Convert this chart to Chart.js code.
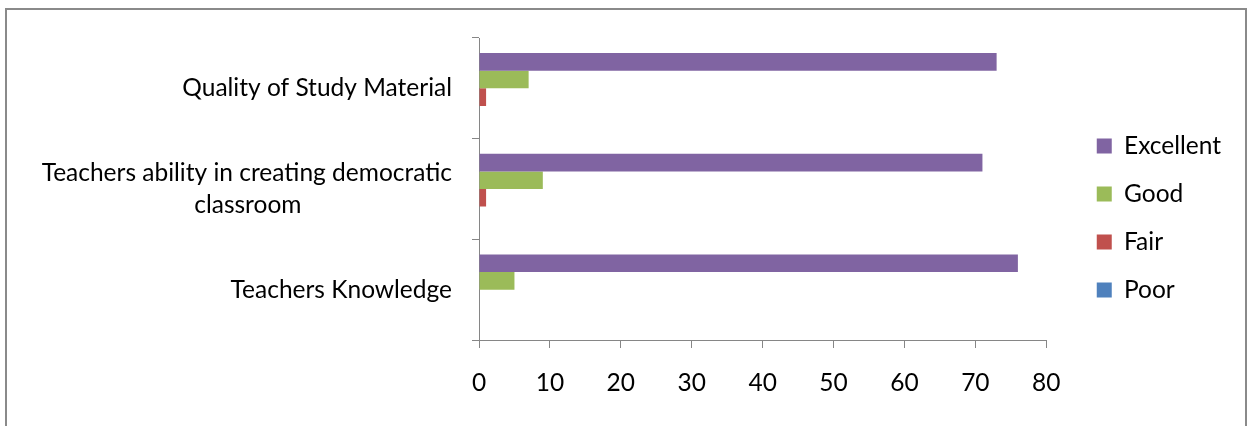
<!DOCTYPE html>
<html><head><meta charset="utf-8">
<script src="https://cdn.jsdelivr.net/npm/chart.js@4"></script>
<style>
html,body{margin:0;padding:0;background:#fff;overflow:hidden;}
#wrap{position:relative;width:1248px;height:426px;}
#frame{position:absolute;left:5px;top:8px;width:1242px;height:440px;border:2px solid #8a8a8a;box-sizing:border-box;}
canvas{position:absolute;left:0;top:0;}
</style></head><body>
<div id="wrap"><div id="frame"></div><canvas id="c" width="1248" height="426"></canvas></div>
<script>
// ---- data ----
const categories = [
  ["Quality of Study Material"],
  ["Teachers ability in creating democratic", "classroom"],
  ["Teachers Knowledge"]
];
const seriesNames = ["Excellent", "Good", "Fair", "Poor"];
const excellent = [73, 71, 76];
const good = [7, 9, 5];
const fair = [1, 1, 0];
const poor = [0, 0, 0];
const xMin = 0, xMax = 80, xStep = 10;
const seriesColors = ["#8064A2", "#9BBB59", "#C0504D", "#4F81BD"];

// ---- style ----
const FONT = "Lato";
const FS = 24.5;
const AXIS = "#868686";

const mctx = document.createElement('canvas').getContext('2d');
mctx.font = FS + "px " + FONT;
function centerLines(lines) {
  if (lines.length < 2) return lines[0];
  const widths = lines.map(l => mctx.measureText(l).width);
  const w0 = Math.max(...widths);
  const sp = mctx.measureText(' ').width;
  return lines.map((l, i) => l + ' '.repeat(Math.max(0, Math.round((w0 - widths[i]) / 2 / sp))));
}

const seriesData = [excellent, good, fair, poor];
new Chart(document.getElementById('c'), {
  type: 'bar',
  data: {
    labels: categories.map(c => c.join(' ')),
    datasets: seriesNames.map((n, i) => ({
      label: n,
      data: seriesData[i],
      backgroundColor: seriesColors[i],
      borderWidth: 0,
      categoryPercentage: 0.7,
      barPercentage: 1.0
    }))
  },
  options: {
    indexAxis: 'y',
    responsive: false,
    animation: false,
    layout: { padding: { left: 0, top: 38, right: 17, bottom: 28 } },
    plugins: {
      tooltip: { enabled: false },
      legend: {
        position: 'right',
        labels: {
          boxWidth: 15, boxHeight: 15, padding: 23.5,
          color: '#000',
          font: { family: FONT, size: FS }
        }
      }
    },
    scales: {
      x: {
        min: xMin, max: xMax,
        ticks: { stepSize: xStep, color: '#000', padding: 20, font: { family: FONT, size: FS } },
        grid: { drawOnChartArea: false, drawTicks: true, tickLength: 8, color: AXIS },
        border: { display: true, color: AXIS, width: 1 },
        afterFit: function (s) { s.height = 58; }
      },
      y: {
        ticks: {
          color: '#000', padding: 20,
          font: { family: FONT, size: FS, lineHeight: 1.3 },
          callback: function (v, i) { return centerLines(categories[i]); }
        },
        grid: { drawOnChartArea: false, drawTicks: true, tickLength: 7, color: AXIS, offset: true },
        border: { display: true, color: AXIS, width: 1 },
        afterFit: function (s) { s.width = 479; }
      },
      y2: {
        type: 'linear', position: 'right', display: true,
        grid: { display: false, drawTicks: false },
        ticks: { display: false },
        border: { display: false },
        afterFit: function (s) { s.width = 27; }
      }
    }
  }
});
</script>
</body></html>
